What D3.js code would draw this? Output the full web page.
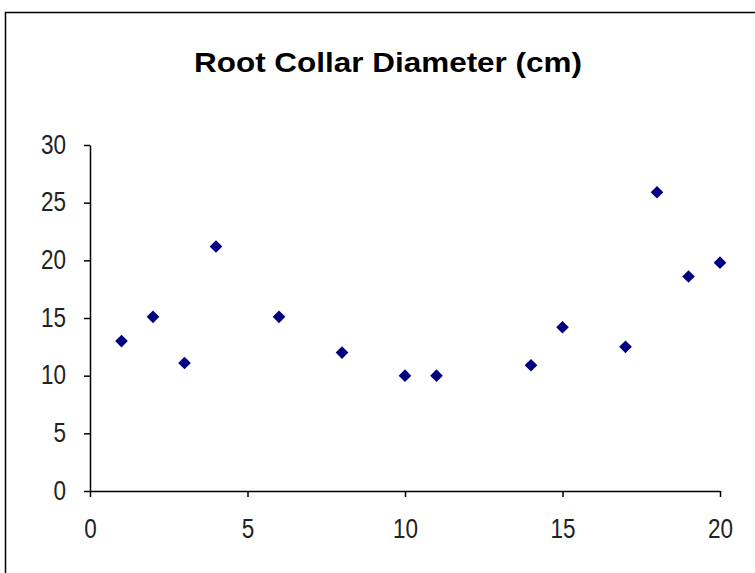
<!DOCTYPE html>
<html>
<head>
<meta charset="utf-8">
<script src="https://cdn.jsdelivr.net/npm/d3@7"></script>
<style>
body { margin: 0; background: #fff; }
svg text { font-family: Arial, "Liberation Sans", sans-serif; }
</style>
</head>
<body>
<div id="chart"></div>
<script>
var xs = [1, 2, 3, 4, 6, 8, 10, 11, 14, 15, 17, 18, 19, 20]
var ys = [13.0, 15.1, 11.1, 21.2, 15.1, 12.0, 10.0, 10.0, 10.9, 14.2, 12.5, 25.9, 18.6, 19.8]
var xTicks = [0, 5, 10, 15, 20]
var yTicks = [0, 5, 10, 15, 20, 25, 30]

var W = 755, H = 573
var svg = d3.select('#chart').append('svg')
            .attr('width', W)
            .attr('height', H)

// outer frame (right and bottom run off the picture)
svg.append('rect')
   .attr('x', 5.5).attr('y', 12.5)
   .attr('width', 800).attr('height', 800)
   .style('fill', 'none').style('stroke', '#000').style('stroke-width', 1.5)

svg.append('text')
   .attr('x', 388).attr('y', 72)
   .attr('text-anchor', 'middle')
   .attr('textLength', 388)
   .attr('lengthAdjust', 'spacingAndGlyphs')
   .style('font-size', '28px').style('font-weight', 'bold')
   .text('Root Collar Diameter (cm)')

var x = d3.scaleLinear().domain([0, 20]).range([90, 720])
var y = d3.scaleLinear().domain([0, 30]).range([491, 145])

var gx = svg.append('g')
            .attr('transform', 'translate(0,' + y(0) + ')')
            .call(d3.axisBottom(x).tickValues(xTicks).tickSize(6).tickPadding(21).tickSizeOuter(0))
var gy = svg.append('g')
            .attr('transform', 'translate(' + x(0) + ',0)')
            .call(d3.axisLeft(y).tickValues(yTicks).tickSize(6).tickPadding(18).tickSizeOuter(0))

// the original digits are tall and narrow: squeeze them to ~12.5px each
;[gx, gy].forEach(g => {
	g.select('.domain').style('stroke', '#000').style('stroke-width', 1.5)
	g.selectAll('.tick line').style('stroke', '#000').style('stroke-width', 1.5)
	g.selectAll('.tick text')
	 .style('font-size', '28px').style('fill', '#222')
	 .attr('textLength', d => String(d).length * 12.5)
	 .attr('lengthAdjust', 'spacingAndGlyphs')
})
gy.selectAll('.tick text').attr('dy', '0.29em')

svg.append('g').selectAll('path')
   .data(xs.map((v, i) => [v, ys[i]]))
   .join('path')
   .attr('transform', d => 'translate(' + x(d[0]) + ',' + y(d[1]) + ') rotate(45)')
   .attr('d', d3.symbol().type(d3.symbolSquare).size(80))
   .style('fill', '#000080')
</script>
</body>
</html>
